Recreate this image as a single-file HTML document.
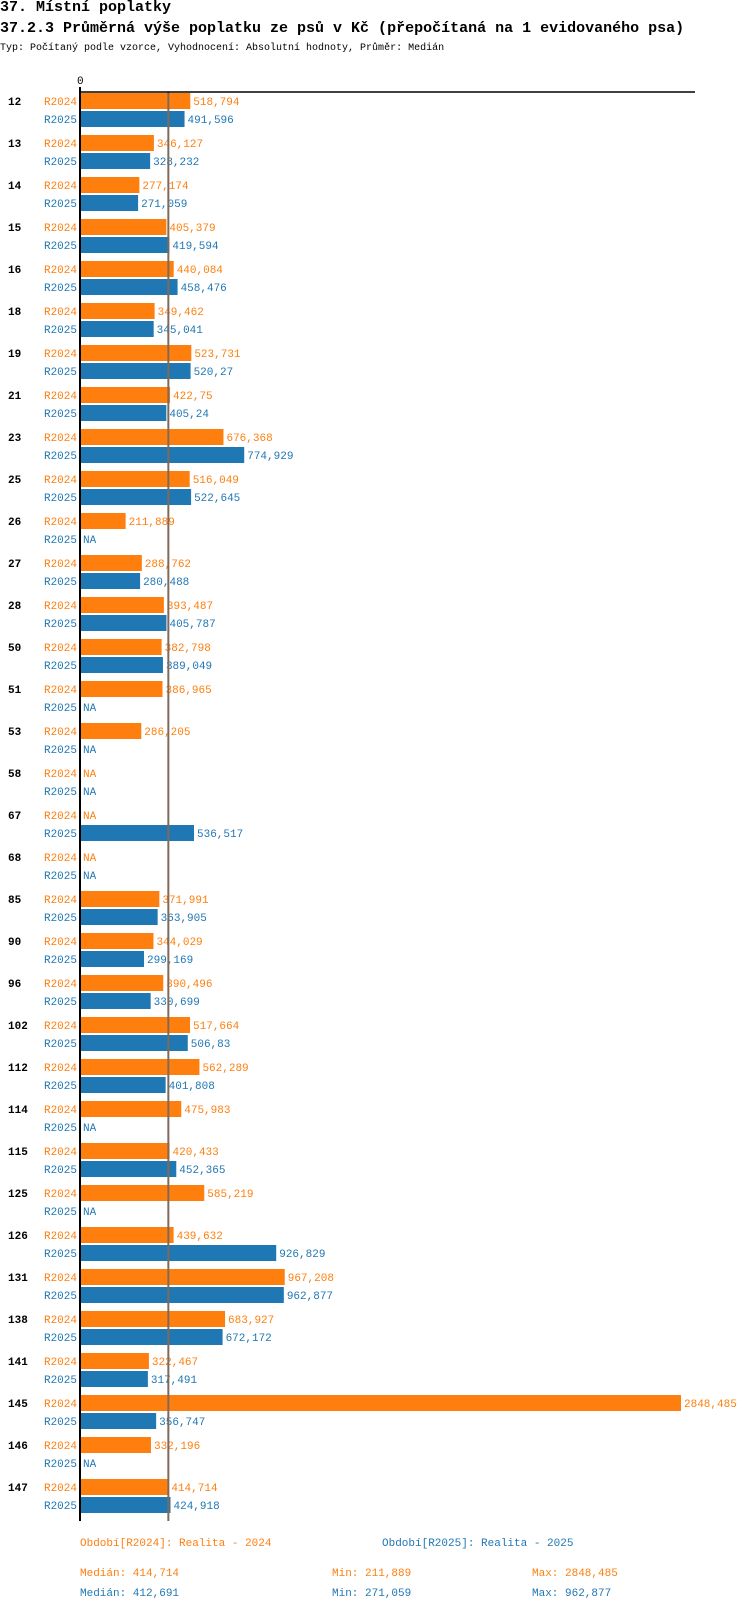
<!DOCTYPE html>
<html><head><meta charset="utf-8"><style>
body{margin:0;background:#fff;width:750px;height:1610px;overflow:hidden;font-family:"Liberation Mono",monospace}
.t{position:absolute;left:0;white-space:nowrap;color:#000}
</style></head><body>
<div class="t" style="top:-1px;font-size:15px;font-weight:bold">37. Místní poplatky</div>
<div class="t" style="top:20px;font-size:15px;font-weight:bold">37.2.3 Průměrná výše poplatku ze psů v Kč (přepočítaná na 1 evidovaného psa)</div>
<div class="t" style="top:43px;font-size:10px">Typ: Počítaný podle vzorce, Vyhodnocení: Absolutní hodnoty, Průměr: Medián</div>
<svg id="ch" width="750" height="1610" style="position:absolute;left:0;top:0" font-family="Liberation Mono, monospace" font-size="11"></svg>
<script>
const categories=["12","13","14","15","16","18","19","21","23","25","26","27","28","50","51","53","58","67","68","85","90","96","102","112","114","115","125","126","131","138","141","145","146","147"];
const r2024=[518.794,346.127,277.174,405.379,440.084,349.462,523.731,422.75,676.368,516.049,211.889,288.762,393.487,382.798,386.965,286.205,null,null,null,371.991,344.029,390.496,517.664,562.289,475.983,420.433,585.219,439.632,967.208,683.927,322.467,2848.485,332.196,414.714];
const r2025=[491.596,328.232,271.059,419.594,458.476,345.041,520.27,405.24,774.929,522.645,null,280.488,405.787,389.049,null,null,null,536.517,null,363.905,299.169,330.699,506.83,401.808,null,452.365,null,926.829,962.877,672.172,317.491,356.747,null,424.918];
const seriesNames=["R2024","R2025"];
const medianValue=414.714;
const footerTexts=[["Období[R2024]: Realita - 2024","Období[R2025]: Realita - 2025"],["Medián: 414,714","Min: 211,889","Max: 2848,485"],["Medián: 412,691","Min: 271,059","Max: 962,877"]];
const colors=["#ff7f0e","#1f77b4"];
const NS="http://www.w3.org/2000/svg";
const svg=document.getElementById('ch');
const x0=81,kx=600/2848.485;
const X=v=>x0+v*kx;
const Y=i=>93+i*42;
function mk(t,a){const e=document.createElementNS(NS,t);for(const k in a)e.setAttribute(k,a[k]);svg.appendChild(e);return e;}
function fmt(v){return String(v).replace('.',',');}
let z=mk('text',{x:77,y:84,fill:'#000'});z.textContent='0';


categories.forEach((c,i)=>{
  const y=Y(i);
  const lab=mk('text',{x:8,y:y+12,'font-weight':'bold',fill:'#000'});lab.textContent=c;
  
  
  [r2024,r2025].forEach((arr,s)=>{
    const by=y+s*18,v=arr[i];
    const sl=mk('text',{x:77,y:by+12,'text-anchor':'end',fill:colors[s]});sl.textContent=seriesNames[s];
    
    
    if(v!=null){
      const r=mk('rect',{x:x0,y:by,width:X(v)-x0,height:16,fill:colors[s]});
      
      
      const vt=mk('text',{x:X(v)+3,y:by+12,fill:colors[s]});vt.textContent=fmt(v);
      
      
    }else{
      const vt=mk('text',{x:83,y:by+12,fill:colors[s]});vt.textContent='NA';
      
      
    }
  });
});
const ml=mk('line',{x1:X(medianValue),x2:X(medianValue),y1:92,y2:1521,stroke:'#7f6a5a','stroke-width':2});


const tl=mk('line',{x1:79,x2:695,y1:92,y2:92,stroke:'#000','stroke-width':1.5});


const al=mk('line',{x1:80,x2:80,y1:87,y2:1521,stroke:'#000','stroke-width':2});


const fpos=[[[80,1546,0],[382,1546,1]],[[80,1576,0],[332,1576,0],[532,1576,0]],[[80,1596,1],[332,1596,1],[532,1596,1]]];
footerTexts.forEach((row,r)=>row.forEach((t,j)=>{
  const p=fpos[r][j];
  const e=mk('text',{x:p[0],y:p[1],fill:colors[p[2]]});e.textContent=t;
  
  
}));
</script>
</body></html>
